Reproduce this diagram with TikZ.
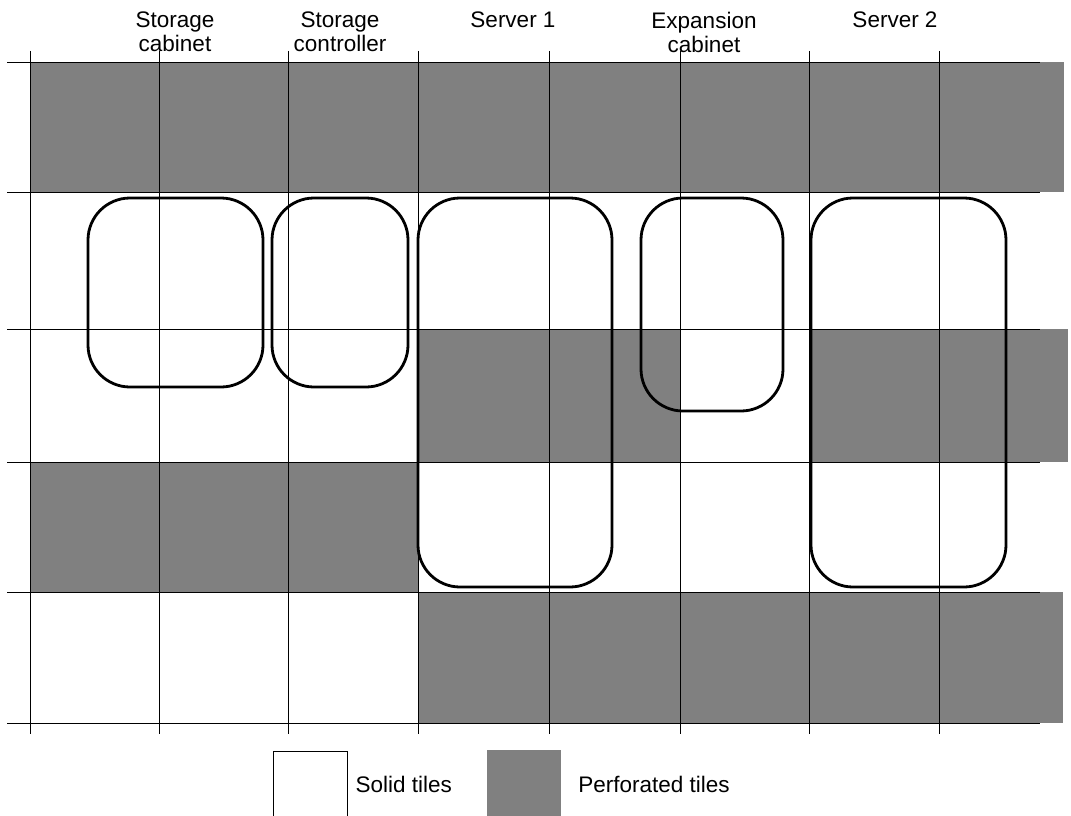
\documentclass[tikz,border=0pt]{standalone}
\usepackage{fontspec}
\setmainfont{Liberation Sans}
\usetikzlibrary{positioning}

\definecolor{perfgray}{HTML}{808080}

\tikzset{
    perftile/.style={fill=perfgray, draw=none},
    gridline/.style={black, line width=0.8pt},
    cabinet/.style={draw=black, line width=2.8pt, rounded corners=42pt},
    caption/.style={font=\fontsize{22.5}{23.5}\selectfont, align=center, inner sep=0pt, anchor=north},
    legendtext/.style={font=\fontsize{22.5}{23.5}\selectfont, inner sep=0pt},
}

\begin{document}
\begin{tikzpicture}[x=1pt, y=-1pt]
    \useasboundingbox (0,0) rectangle (1071,816);
    % Draw the perforated tiles
    \fill[perftile] (30,62) rectangle (1064,192);
    \fill[perftile] (418,329) rectangle (680,462);
    \fill[perftile] (809,329) rectangle (1068,462);
    \fill[perftile] (30,462) rectangle (418,592);
    \fill[perftile] (418,592) rectangle (1063,723);
    % Draw the floor grid
    \foreach \x in {30,159,288,418,549,680,809,939}
        \draw[gridline] (\x,51) -- (\x,734);
    \foreach \y in {62,192,329,462,592,723}
        \draw[gridline] (7,\y) -- (1040,\y);
    % Draw the cabinets
    \draw[cabinet] (88,198) rectangle (263,387);
    \draw[cabinet] (272,198) rectangle (408,387);
    \draw[cabinet] (418,198) rectangle (612,587);
    \draw[cabinet] (641,198) rectangle (783,411);
    \draw[cabinet] (811,198) rectangle (1006,587);
    % Cabinet captions
    \node[caption] (capstore) at (175,12) {Storage\\cabinet};
    \node[caption] (capctrl) at (340,12) {Storage\\controller};
    \node[caption] (capsrvone) at (513,12) {Server 1};
    \node[caption] (capexp) at (704,12) {Expansion\\cabinet};
    \node[caption] (capsrvtwo) at (895,12) {Server 2};
    % Legend
    \node[draw=black, line width=0.8pt, minimum width=74pt, minimum height=74pt, inner sep=0pt] (solidbox) at (310,788) {};
    \node[legendtext, right=8pt of solidbox, yshift=4pt] (solidtext) {Solid tiles};
    \node[perftile, minimum width=74pt, minimum height=74pt, inner sep=0pt] (perfbox) at (524,787) {};
    \node[legendtext, right=17pt of perfbox, yshift=3pt] (perftext) {Perforated tiles};
\end{tikzpicture}
\end{document}
